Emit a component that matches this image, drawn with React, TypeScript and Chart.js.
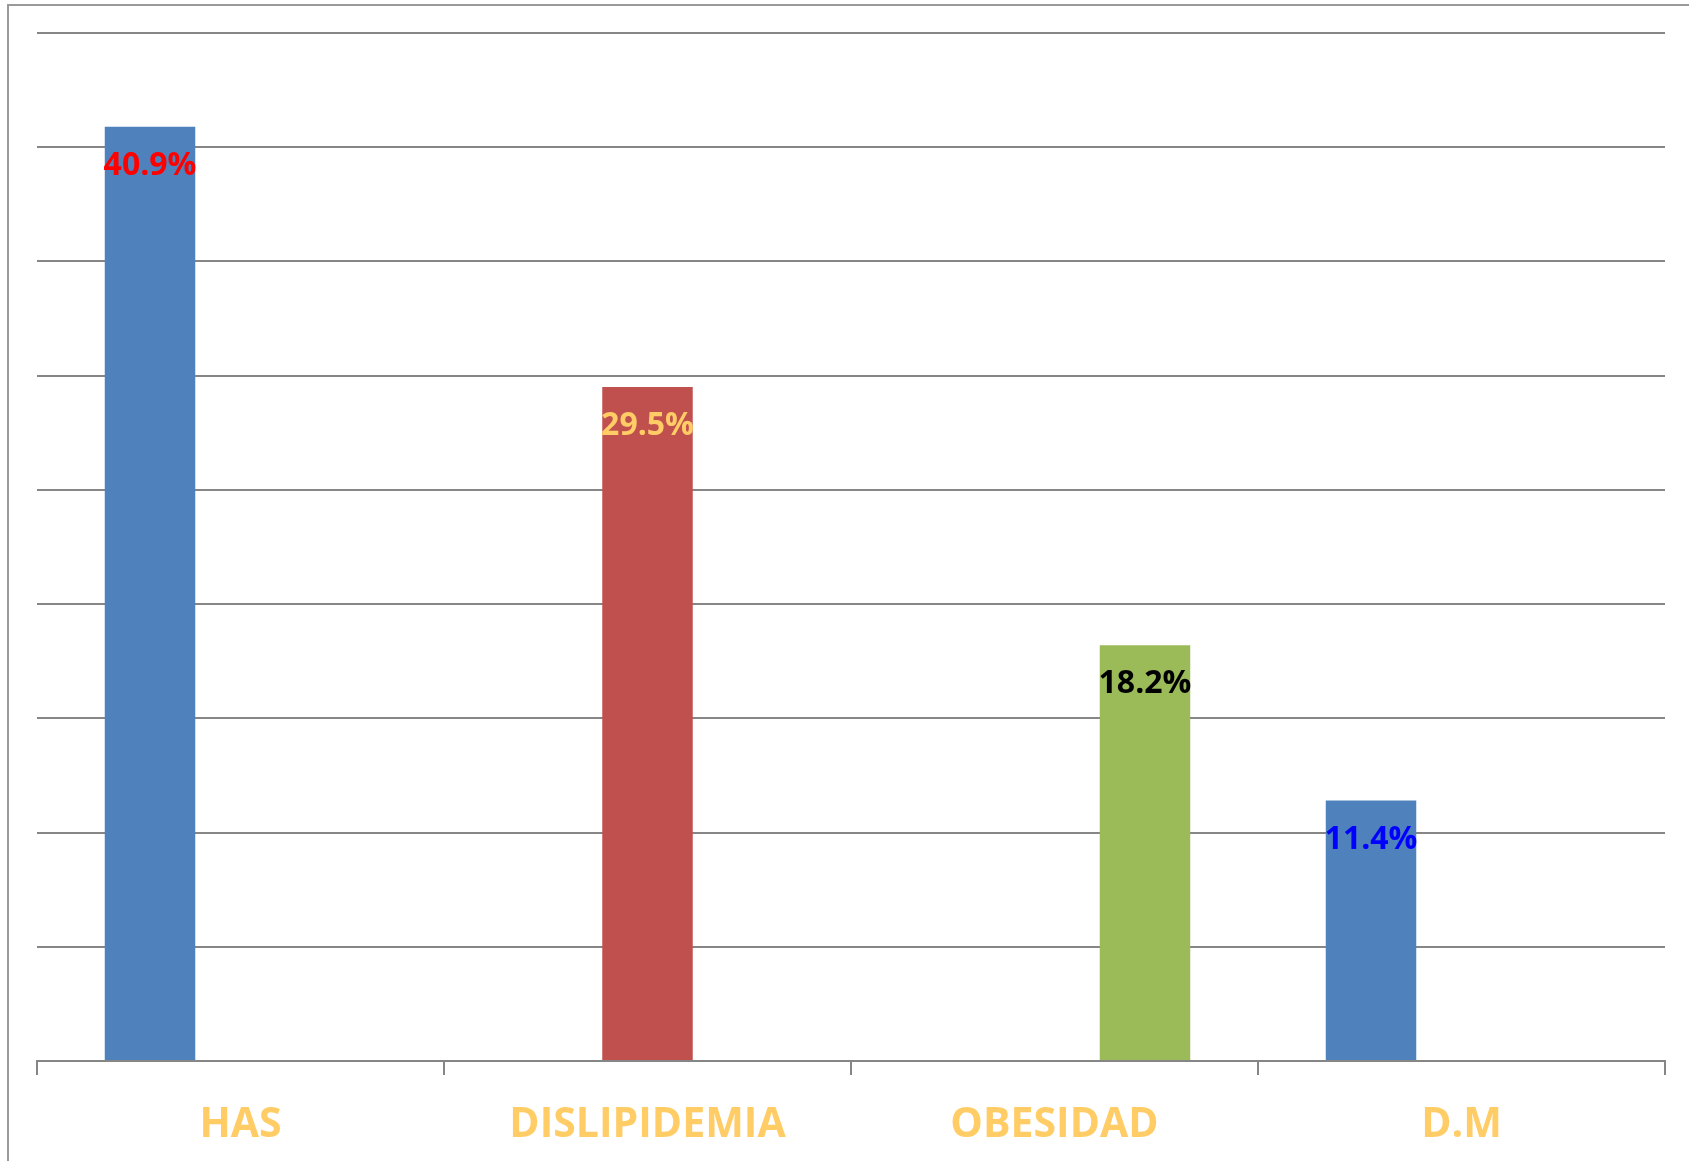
import React, { useEffect, useRef } from "react";
import { Chart, registerables } from "chart.js";

Chart.register(...registerables);

const categories = ["HAS", "DISLIPIDEMIA", "OBESIDAD", "D.M"];
const seriesBlue = [40.9, null, null, 11.4];
const seriesRed = [null, 29.5, null, null];
const seriesGreen = [null, null, 18.2, null];
const labelColors = ["#FF0000", "#FFCC66", "#000000", "#0000FF"];
const yMax = 45;
const yStep = 5;

const FONT = "'Open Sans', 'DejaVu Sans', sans-serif";

const frame = {
  id: "frame",
  beforeDraw(chart: any) {
    const ctx = chart.ctx;
    ctx.save();
    ctx.strokeStyle = "#9a9a9a";
    ctx.lineWidth = 2;
    ctx.beginPath();
    ctx.moveTo(8, chart.height);
    ctx.lineTo(8, 5);
    ctx.lineTo(chart.width, 5);
    ctx.stroke();
    ctx.restore();
  },
};

const valueLabels = {
  id: "valueLabels",
  afterDatasetsDraw(chart: any) {
    const ctx = chart.ctx;
    ctx.save();
    ctx.font = `bold 32px ${FONT}`;
    ctx.textAlign = "center";
    ctx.textBaseline = "middle";
    chart.data.datasets.forEach((ds: any, di: number) => {
      const meta = chart.getDatasetMeta(di);
      meta.data.forEach((bar: any, i: number) => {
        const v = ds.data[i];
        if (v === null || v === undefined) return;
        ctx.fillStyle = labelColors[i];
        ctx.fillText(v.toFixed(1) + "%", bar.x, bar.y + 39);
      });
    });
    ctx.restore();
  },
};

export default function App() {
  const ref = useRef<HTMLCanvasElement>(null);
  useEffect(() => {
    document.body.style.margin = "0";
    const chart = new Chart(ref.current!, {
      type: "bar",
      data: {
        labels: categories,
        datasets: [
          { data: seriesBlue, backgroundColor: "#4F81BD" },
          { data: seriesRed, backgroundColor: "#C0504D" },
          { data: seriesGreen, backgroundColor: "#9BBB59" },
        ],
      },
      options: {
        animation: false,
        responsive: false,
        maintainAspectRatio: false,
        layout: { padding: { left: 37, right: 24, top: 33, bottom: 0 } },
        plugins: { legend: { display: false }, tooltip: { enabled: false } },
        datasets: { bar: { categoryPercentage: 0.667, barPercentage: 1.0 } },
        scales: {
          x: {
            grid: {
              offset: true,
              drawOnChartArea: false,
              drawTicks: true,
              tickLength: 14,
              color: "#868686",
              lineWidth: 2,
            },
            border: { display: true, color: "#868686", width: 2 },
            ticks: {
              color: "#FFCC66",
              font: { family: FONT, size: 41, weight: "bold" },
              padding: 26,
            },
            afterFit: (s: any) => {
              s.height = 100;
            },
          },
          y: {
            min: 0,
            max: yMax,
            ticks: { display: false, stepSize: yStep },
            grid: { color: "#868686", lineWidth: 2, drawTicks: false },
            border: { display: false },
            afterFit: (s: any) => {
              s.width = 0;
            },
          },
        },
      },
      plugins: [frame, valueLabels],
    } as any);
    return () => chart.destroy();
  }, []);
  return (
    <div style={{ width: 1689, height: 1161 }}>
      <canvas ref={ref} width={1689} height={1161} />
    </div>
  );
}
